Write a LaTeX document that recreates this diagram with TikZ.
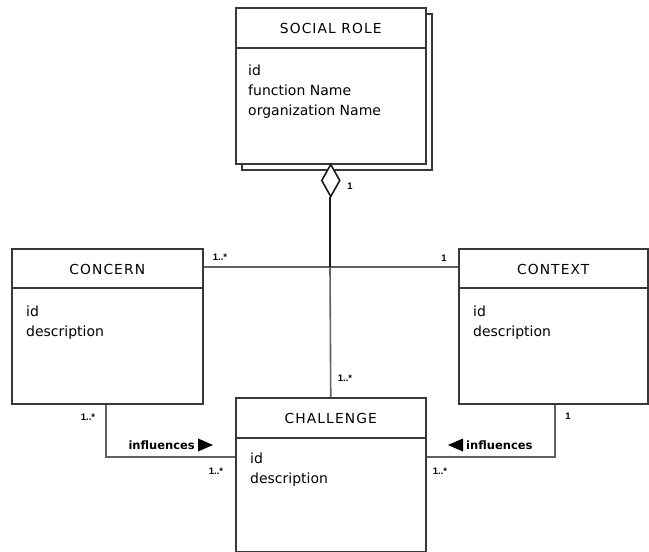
\documentclass[tikz,border=0pt]{standalone}
\usepackage{fontspec}
\setmainfont{DejaVu Sans}
\newfontfamily\titlefont[LetterSpace=8]{DejaVu Sans}
\newfontfamily\multfont{Liberation Sans}
\begin{document}
\begin{tikzpicture}[x=1pt,y=-1pt,
  classbox/.style={draw=black!78, line width=1.5pt, fill=white, inner sep=0pt, anchor=north west},
  classtitle/.style={font=\titlefont\fontsize{13.8}{16}\selectfont, inner sep=0pt},
  attrs/.style={font=\fontsize{14}{20}\selectfont, align=left, anchor=north west, inner sep=0pt},
  sepline/.style={draw=black!78, line width=1.5pt},
  link/.style={draw=black!62, line width=1.6pt},
  aggline/.style={draw=black!90, line width=2pt},
  mult/.style={font=\multfont\bfseries\fontsize{9.5}{11}\selectfont, inner sep=0pt},
  verb/.style={font=\bfseries\fontsize{11.5}{13}\selectfont, inner sep=0pt},
  arrowhead/.style={fill=black, draw=none}]
\useasboundingbox (0,0) rectangle (649,552);

% ---- SOCIAL ROLE (with stacked shadow) ----
\draw[draw=black!78, line width=1.5pt, fill=white] (242,14) rectangle (432,170);
\node[classbox, minimum width=190pt, minimum height=156pt] (social) at (235,7) {};
\draw[sepline] ([yshift=-41pt]social.north west) -- ([yshift=-41pt]social.north east);
\node[classtitle] (socialT) at ([yshift=-21pt]social.north) {SOCIAL ROLE};
\node[attrs] (socialA) at ([xshift=13pt,yshift=-58pt]social.north west) {id\\function Name\\organization Name};

% ---- CONCERN ----
\node[classbox, minimum width=191pt, minimum height=155pt] (concern) at (11,248) {};
\draw[sepline] ([yshift=-40pt]concern.north west) -- ([yshift=-40pt]concern.north east);
\node[classtitle] (concernT) at ([yshift=-21pt]concern.north) {CONCERN};
\node[attrs] (concernA) at ([xshift=15pt,yshift=-58pt]concern.north west) {id\\description};

% ---- CONTEXT ----
\node[classbox, minimum width=189pt, minimum height=155pt] (context) at (458,248) {};
\draw[sepline] ([yshift=-40pt]context.north west) -- ([yshift=-40pt]context.north east);
\node[classtitle] (contextT) at ([yshift=-21pt]context.north) {CONTEXT};
\node[attrs] (contextA) at ([xshift=15pt,yshift=-58pt]context.north west) {id\\description};

% ---- CHALLENGE ----
\node[classbox, minimum width=190pt, minimum height=154pt] (challenge) at (235,397) {};
\draw[sepline] ([yshift=-41pt]challenge.north west) -- ([yshift=-41pt]challenge.north east);
\node[classtitle] (challengeT) at ([yshift=-21pt]challenge.north) {CHALLENGE};
\node[attrs] (challengeA) at ([xshift=15pt,yshift=-56pt]challenge.north west) {id\\description};

% ---- aggregation from SOCIAL ROLE ----
\coordinate (junction) at (330,267);
\coordinate (aggtip) at (330,197);
\coordinate (lbend) at (106,457);
\coordinate (rbend) at (555,457);

\draw[link] (concern.east |- junction) -- (context.west |- junction);
\draw[link] (junction) -- (challenge.north);
\draw[aggline] (aggtip) -- (junction);
\draw[draw=black!90, line width=1.6pt, fill=white, line join=miter]
  (social.south) -- ++(9,16) -- ++(-9,16) -- ++(-9,-16) -- cycle;

% ---- influences links ----
\draw[link] (concern.south -| lbend) -- (lbend) -- (challenge.west |- lbend);
\draw[link] (context.south -| rbend) -- (rbend) -- (challenge.east |- rbend);

% ---- multiplicities ----
\node[mult] (m1) at (350,186) {1};
\node[mult] (m2) at (220,257) {1..*};
\node[mult] (m3) at (444,258) {1};
\node[mult] (m4) at (345,378) {1..*};
\node[mult] (m5) at (88,417) {1..*};
\node[mult] (m6) at (568,416) {1};
\node[mult] (m7) at (216,471) {1..*};
\node[mult] (m8) at (440,471) {1..*};

% ---- association names ----
\node[verb, anchor=east] (inflL) at (195,445) {influences};
\fill[arrowhead] (198,438.5) -- (213,445) -- (198,451.5) -- cycle;
\node[verb, anchor=west] (inflR) at (466,445) {influences};
\fill[arrowhead] (463,438.5) -- (448,445) -- (463,451.5) -- cycle;
\end{tikzpicture}
\end{document}
